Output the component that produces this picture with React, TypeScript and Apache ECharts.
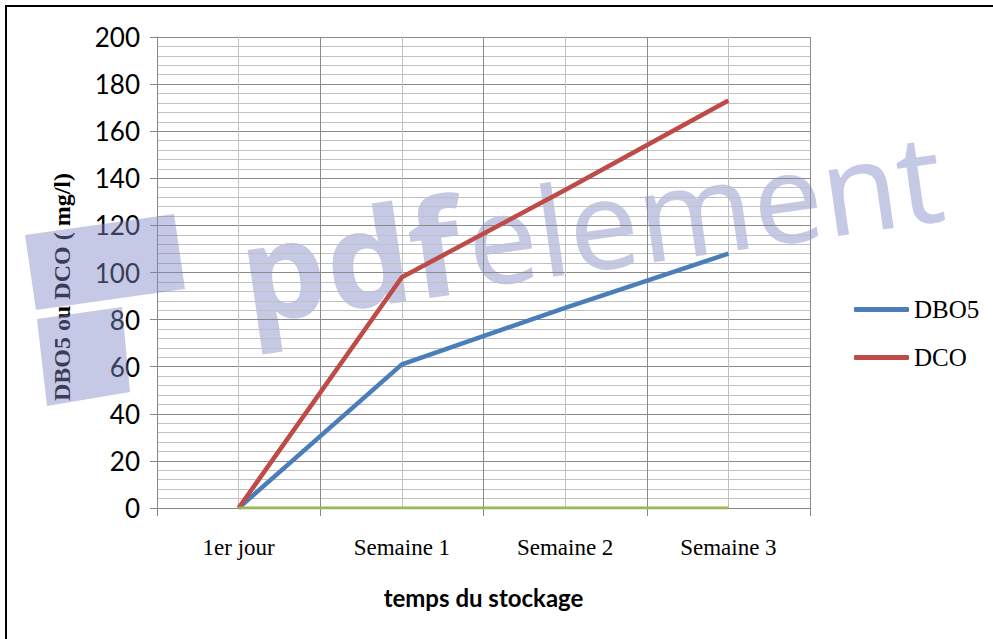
import React, { useEffect, useRef } from "react";
import * as echarts from "echarts";

const categories = ["1er jour", "Semaine 1", "Semaine 2", "Semaine 3"];
const dbo5 = [0, 61, 85, 108];
const dco = [0, 98, 135, 173];
const zeroSeries = [0, 0, 0, 0];
const yTicks = { min: 0, max: 200, interval: 20 };

const WM = "rgba(126,135,197,0.45)";

export default function App() {
  const ref = useRef<HTMLDivElement>(null);
  useEffect(() => {
    if (!ref.current) return;
    const chart = echarts.init(ref.current, null, { renderer: "svg" });
    chart.setOption({
      animation: false,
      backgroundColor: "#ffffff",
      grid: { left: 157, right: 183, top: 37, bottom: 131, containLabel: false },
      xAxis: [
        {
          type: "category",
          data: categories,
          boundaryGap: true,
          axisLine: { show: true, lineStyle: { color: "#868686", width: 1 } },
          axisTick: { show: true, length: 8, lineStyle: { color: "#868686" } },
          splitLine: { show: false },
          axisLabel: {
            color: "#000",
            fontFamily: "Liberation Serif",
            fontSize: 23,
            margin: 28,
          },
          name: "temps du stockage",
          nameLocation: "middle",
          nameGap: 77,
          nameTextStyle: {
            color: "#000",
            fontFamily: "Lato",
            fontWeight: "bold",
            fontSize: 24,
          },
        },
        {
          type: "value",
          position: "top",
          min: 0,
          max: 8,
          interval: 1,
          axisLine: { show: false },
          axisTick: { show: false },
          axisLabel: { show: false },
          splitLine: {
            show: true,
            lineStyle: { color: ["#8a8a8a", "#c0c0c0"], width: 1 },
          },
        },
      ],
      yAxis: {
        type: "value",
        min: yTicks.min,
        max: yTicks.max,
        interval: yTicks.interval,
        axisLine: { show: true, lineStyle: { color: "#868686", width: 1 } },
        axisTick: { show: true, length: 7, lineStyle: { color: "#868686" } },
        axisLabel: {
          color: "#000",
          fontFamily: "Lato",
          fontSize: 26,
          margin: 17,
        },
        splitLine: { show: true, lineStyle: { color: "#8a8a8a", width: 1 } },
        minorTick: { show: false, splitNumber: 5 },
        minorSplitLine: { show: true, lineStyle: { color: "#c0c0c0", width: 1 } },
      },
      legend: {
        data: ["DBO5", "DCO"],
        orient: "vertical",
        left: 849,
        top: 292,
        icon: "roundRect",
        itemWidth: 55,
        itemHeight: 5,
        itemGap: 23,
        textStyle: { color: "#000", fontFamily: "Liberation Serif", fontSize: 25 },
      },
      series: [
        {
          name: "DBO5",
          type: "line",
          xAxisIndex: 0,
          data: dbo5,
          symbol: "none",
          lineStyle: { color: "#4a7ebb", width: 4.5 },
          itemStyle: { color: "#4a7ebb" },
        },
        {
          name: "DCO",
          type: "line",
          xAxisIndex: 0,
          data: dco,
          symbol: "none",
          lineStyle: { color: "#be4b48", width: 4.5 },
          itemStyle: { color: "#be4b48" },
        },
        {
          name: "zero",
          type: "line",
          xAxisIndex: 0,
          data: zeroSeries,
          symbol: "none",
          lineStyle: { color: "#98b954", width: 3 },
          itemStyle: { color: "#98b954" },
        },
      ],
      graphic: [
        {
          type: "text",
          x: 62,
          y: 287,
          rotation: Math.PI / 2,
          style: {
            text: "DBO5 ou DCO ( mg/l)",
            font: 'bold 24px "Liberation Serif"',
            fill: "#000",
            align: "center",
            verticalAlign: "middle",
          },
        },
        {
          type: "rect",
          shape: { x: 6, y: 6, width: 1000, height: 700 },
          style: { fill: "none", stroke: "#000", lineWidth: 2 },
          silent: true,
        },
        {
          type: "polygon",
          z: 100,
          silent: true,
          shape: { points: [[25, 235], [174, 214], [185, 289], [36, 310]] },
          style: { fill: WM },
        },
        {
          type: "polygon",
          z: 100,
          silent: true,
          shape: { points: [[37, 319], [122, 307], [130, 392], [47, 406]] },
          style: { fill: WM },
        },
        {
          type: "group",
          x: 248,
          y: 322,
          rotation: 0.142,
          z: 100,
          silent: true,
          children: [
            {
              type: "text",
              x: 0,
              y: -50,
              style: {
                text: "pdf",
                font: 'bold 134px "Noto Sans"',
                fill: WM,
                align: "left",
                verticalAlign: "middle",
              },
            },
            {
              type: "text",
              x: 228,
              y: -50,
              style: {
                text: "element",
                font: '124px "Noto Sans"',
                fill: WM,
                align: "left",
                verticalAlign: "middle",
              },
            },
          ],
        },
      ],
    });
    return () => chart.dispose();
  }, []);
  return (
    <div
      ref={ref}
      style={{ position: "absolute", left: 0, top: 0, width: 993, height: 639 }}
    />
  );
}
